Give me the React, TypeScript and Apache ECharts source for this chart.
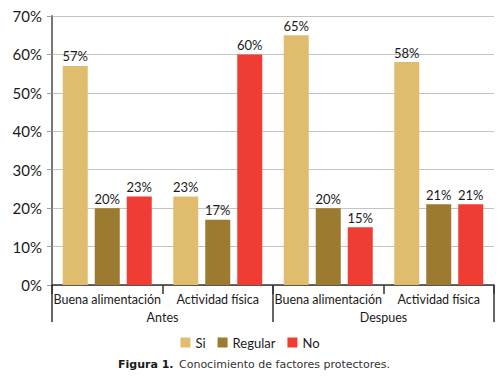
import React, { useEffect, useRef } from "react";
import * as echarts from "echarts";

const categories = ["Buena alimentación", "Actividad física", "Buena alimentación", "Actividad física"];
const groups = ["Antes", "Despues"];
const siValues = [57, 23, 65, 58];
const regularValues = [20, 17, 20, 21];
const noValues = [23, 60, 15, 21];
const yTicks = [0, 10, 20, 30, 40, 50, 60, 70];
const captionBold = "Figura 1.";
const captionRest = "Conocimiento de factores protectores.";

const FONT = "Lato, 'DejaVu Sans Condensed', sans-serif";

export default function App() {
  const ref = useRef<HTMLDivElement>(null);
  useEffect(() => {
    const chart = echarts.init(ref.current!, null, { renderer: "svg" });
    const label = {
      show: true,
      position: "top",
      distance: 3,
      formatter: "{c}%",
      color: "#1a1a1a",
      fontSize: 13,
      fontFamily: FONT,
    };
    chart.setOption({
      animation: false,
      backgroundColor: "#ffffff",
      textStyle: { fontFamily: FONT },
      grid: { left: 52, right: 6, top: 16, bottom: 91 },
      legend: {
        data: ["Si", "Regular", "No"],
        top: 331,
        left: "center",
        itemWidth: 10,
        itemHeight: 10,
        itemGap: 12,
        icon: "rect",
        textStyle: { fontSize: 13, color: "#1a1a1a", fontFamily: FONT },
      },
      xAxis: [
        {
          type: "category",
          data: categories,
          position: "bottom",
          axisLine: { show: true, lineStyle: { color: "#333", width: 1.5 } },
          axisTick: { show: true, length: 9, lineStyle: { color: "#333", width: 1.5 } },
          axisLabel: { margin: 8, fontSize: 12.5, color: "#1a1a1a", fontFamily: FONT, interval: 0 },
        },
        {
          type: "category",
          data: groups,
          position: "bottom",
          axisLine: { show: false },
          axisTick: { show: true, length: 37, lineStyle: { color: "#333", width: 1.5 } },
          axisLabel: { margin: 26, fontSize: 12.5, color: "#1a1a1a", fontFamily: FONT, interval: 0 },
        },
      ],
      yAxis: {
        type: "value",
        min: yTicks[0],
        max: yTicks[yTicks.length - 1],
        interval: 10,
        axisLine: { show: true, lineStyle: { color: "#777", width: 2 } },
        axisTick: { show: true, length: 5, lineStyle: { color: "#999" } },
        splitLine: { show: true, lineStyle: { color: "#c4c4c4", width: 1 } },
        axisLabel: { formatter: "{value}%", fontSize: 15, color: "#1a1a1a", fontFamily: FONT, margin: 10 },
      },
      series: [
        { name: "Si", type: "bar", data: siValues, barWidth: 25, barGap: "28%", itemStyle: { color: "#e0bd6e" }, label },
        { name: "Regular", type: "bar", data: regularValues, barWidth: 25, barGap: "28%", itemStyle: { color: "#9c7a2f" }, label },
        { name: "No", type: "bar", data: noValues, barWidth: 25, barGap: "28%", itemStyle: { color: "#f03d34" }, label },
      ],
      graphic: [
        {
          type: "text",
          x: 118,
          y: 364,
          style: {
            text: captionBold,
            font: "bold 11px 'DejaVu Sans'",
            fill: "#1a1a1a",
            textAlign: "left",
            textVerticalAlign: "middle",
          },
        },
        {
          type: "text",
          x: 179,
          y: 364,
          style: {
            text: captionRest,
            font: "11px 'DejaVu Sans'",
            fill: "#333",
            textAlign: "left",
            textVerticalAlign: "middle",
          },
        },
      ],
    });
    return () => chart.dispose();
  }, []);
  return <div ref={ref} style={{ position: "fixed", left: 0, top: 0, width: 500, height: 376 }} />;
}
